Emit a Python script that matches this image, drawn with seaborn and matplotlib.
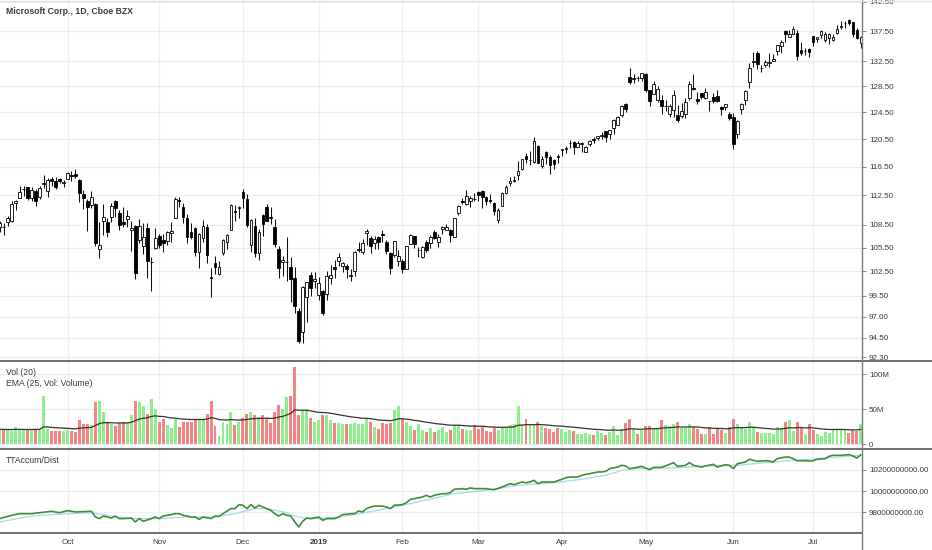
import matplotlib
matplotlib.use("Agg")
import matplotlib.pyplot as plt
from matplotlib.lines import Line2D
from matplotlib.ticker import FixedLocator, FuncFormatter, NullLocator
import numpy as np
import pandas as pd
import seaborn as sns

sns.set_theme(style="white")
plt.rcParams["font.family"] = ["Liberation Sans", "DejaVu Sans"]

TITLE = "Microsoft Corp., 1D, Cboe BZX"
FIRST_SESSION = "2018-09-06"
LAST_SESSION = "2019-07-18"
HOLIDAYS = ["2018-11-22", "2018-12-05", "2018-12-25", "2019-01-01", "2019-01-21",
            "2019-02-18", "2019-04-19", "2019-05-27", "2019-07-04"]

# daily OHLC, one line per month (Sep 2018 .. Jul 2019)
open_ = [
    108.25, 108.23, 108.84, 109.01, 111.43, 112.12, 113.36, 113.69, 112.19, 113.05, 112.28, 114.00, 113.03, 114.80, 114.47, 114.78, 114.19,
    114.75, 115.30, 115.42, 114.61, 112.63, 111.66, 111.14, 111.24, 105.35, 109.01, 108.91, 109.54, 111.68, 110.10, 108.93, 109.32, 107.77, 108.41, 106.55, 105.69, 108.11, 103.66, 105.44,
    107.05, 106.48, 106.37, 107.38, 109.44, 111.80, 110.85, 109.42, 107.55, 108.10, 104.99, 106.81, 108.27, 101.80, 103.60, 102.17, 104.79, 106.27, 107.89, 110.33, 110.70,
    113.00, 111.94, 105.82, 108.38, 104.80, 109.80, 110.89, 109.58, 108.25, 105.41, 103.75, 103.65, 103.05, 101.63, 97.68, 95.14, 99.30, 102.09, 101.29,
    99.55, 100.10, 99.72, 101.64, 103.04, 103.86, 103.22, 103.19, 101.90, 102.51, 105.26, 105.00, 107.46, 106.75, 106.12, 106.86, 107.24, 106.26, 104.88, 104.62, 103.80,
    103.78, 102.87, 106.06, 107.00, 105.19, 104.39, 106.20, 106.14, 107.50, 106.31, 107.91, 107.79, 107.86, 106.90, 110.05, 111.76, 111.26, 111.69, 112.04,
    112.89, 113.02, 112.25, 111.87, 111.40, 109.16, 110.99, 112.82, 114.13, 114.54, 115.34, 116.17, 118.09, 117.39, 117.14, 119.50, 116.56, 118.62, 117.88, 117.44, 118.07,
    118.95, 119.06, 119.86, 120.10, 119.39, 119.81, 118.63, 119.76, 120.54, 120.64, 120.94, 121.64, 121.24, 122.19, 122.62, 124.10, 125.79, 130.06, 129.70, 129.90, 129.81,
    130.53, 127.98, 127.36, 126.39, 126.46, 125.44, 124.29, 124.91, 124.11, 123.87, 124.26, 126.75, 128.31, 126.52, 127.43, 126.62, 126.20, 126.91, 126.98, 125.38, 125.26, 124.23,
    123.85, 121.28, 124.95, 126.44, 129.19, 132.40, 133.88, 131.40, 131.98, 132.26, 132.63, 134.19, 135.00, 137.45, 136.58, 137.00, 137.25, 134.35, 134.14, 134.57,
    136.63, 136.12, 136.80, 135.94, 136.40, 136.00, 137.13, 138.20, 138.85, 139.44, 138.96, 137.70, 135.55,
]
high = [
    108.99, 108.72, 109.64, 111.76, 111.85, 113.73, 113.73, 113.70, 113.70, 113.31, 113.80, 115.29, 114.90, 115.10, 115.06, 114.91, 114.57,
    115.68, 115.84, 116.18, 114.76, 113.17, 112.03, 113.08, 111.50, 108.93, 111.24, 109.48, 111.41, 111.81, 110.53, 110.86, 110.54, 108.97, 108.49, 109.27, 108.75, 108.70, 104.38, 108.14,
    107.32, 107.32, 107.74, 108.84, 112.24, 112.21, 111.45, 109.96, 108.74, 108.26, 107.43, 109.16, 108.56, 102.97, 104.43, 103.81, 106.63, 107.33, 111.33, 111.12, 110.97,
    113.42, 112.64, 109.24, 109.45, 107.98, 110.00, 111.27, 110.87, 109.26, 105.80, 104.51, 106.88, 104.31, 103.00, 97.97, 100.69, 101.19, 102.41, 102.40,
    101.75, 100.19, 102.51, 103.27, 103.97, 104.88, 103.75, 103.44, 102.87, 105.05, 106.26, 106.63, 107.90, 107.10, 107.04, 107.00, 107.88, 106.48, 104.97, 106.38, 105.22,
    104.10, 105.80, 107.27, 107.00, 105.59, 105.78, 106.58, 107.14, 107.78, 107.29, 108.30, 108.66, 107.94, 109.48, 111.20, 112.18, 113.24, 112.36, 112.88,
    113.02, 113.25, 112.39, 112.66, 111.55, 110.71, 112.95, 113.99, 115.00, 115.20, 117.25, 117.61, 118.44, 118.75, 120.82, 119.59, 118.01, 118.71, 118.21, 117.58, 118.32,
    119.11, 119.48, 120.43, 120.23, 120.23, 120.02, 119.54, 120.35, 120.85, 120.98, 121.58, 121.65, 121.85, 123.52, 124.00, 125.58, 125.85, 131.37, 130.52, 130.18, 130.70,
    130.65, 128.00, 129.43, 128.56, 127.18, 126.37, 125.80, 127.93, 125.55, 125.88, 126.71, 129.38, 130.46, 127.59, 127.53, 128.24, 126.29, 127.42, 128.00, 125.39, 125.76, 124.62,
    124.37, 123.28, 125.87, 127.97, 132.25, 134.08, 134.24, 131.97, 132.67, 133.79, 133.73, 135.24, 135.93, 137.66, 137.73, 138.40, 137.59, 135.74, 134.71, 134.60,
    136.70, 136.58, 137.74, 137.33, 137.10, 136.97, 138.58, 139.22, 139.13, 139.54, 139.05, 137.93, 136.62,
]
low = [
    107.51, 107.23, 108.36, 108.85, 110.51, 112.12, 112.44, 111.86, 111.72, 111.04, 111.93, 113.51, 112.21, 113.75, 113.35, 114.20, 113.68,
    114.73, 114.44, 114.93, 111.63, 110.64, 107.74, 110.80, 105.79, 104.20, 107.12, 106.95, 108.95, 109.55, 107.83, 108.21, 108.24, 105.11, 101.59, 106.15, 104.76, 101.63, 100.11, 105.39,
    105.53, 104.98, 105.90, 106.28, 109.40, 110.91, 108.76, 106.10, 106.64, 104.47, 102.90, 106.21, 103.55, 99.35, 102.24, 102.00, 104.58, 105.36, 107.86, 109.03, 109.36,
    110.73, 108.21, 105.00, 104.30, 103.89, 107.02, 109.04, 108.63, 105.58, 101.71, 101.93, 101.35, 98.78, 97.46, 93.98, 93.96, 96.40, 99.52, 100.44,
    98.94, 97.20, 98.93, 100.98, 101.71, 103.24, 102.38, 101.64, 101.26, 101.88, 104.96, 104.76, 105.91, 104.86, 105.34, 105.34, 106.20, 104.66, 102.17, 104.33, 103.18,
    102.35, 102.77, 105.96, 105.53, 104.29, 104.26, 104.97, 105.48, 106.71, 105.66, 107.36, 107.78, 106.29, 106.87, 109.82, 111.26, 111.17, 110.88, 111.73,
    111.67, 110.80, 111.23, 111.43, 109.87, 108.80, 110.98, 112.65, 113.78, 114.33, 114.59, 116.05, 116.99, 116.71, 117.09, 117.04, 116.32, 116.85, 115.52, 116.13, 116.96,
    118.10, 118.52, 119.15, 118.38, 119.37, 118.64, 118.58, 119.54, 119.92, 120.37, 120.57, 120.10, 120.54, 121.30, 122.57, 123.83, 124.52, 128.83, 129.02, 129.35, 129.39,
    127.70, 125.52, 127.25, 126.11, 124.22, 124.75, 123.80, 123.82, 123.04, 123.70, 123.70, 126.46, 127.92, 125.76, 126.58, 126.52, 124.74, 125.97, 126.05, 124.04, 124.78, 123.32,
    119.01, 120.65, 124.21, 125.60, 128.26, 131.62, 131.28, 130.71, 131.56, 131.64, 132.53, 133.57, 133.81, 135.72, 136.46, 137.00, 132.73, 133.60, 133.51, 133.16,
    134.97, 135.72, 136.30, 135.72, 135.37, 135.80, 137.02, 137.87, 138.01, 138.46, 136.52, 136.22, 134.67,
]
close = [
    108.74, 108.21, 109.38, 111.24, 111.71, 112.91, 113.37, 112.14, 113.21, 111.70, 113.57, 114.26, 114.67, 114.45, 113.68, 114.41, 114.37,
    115.61, 115.15, 115.17, 112.79, 112.13, 110.85, 112.26, 106.16, 105.91, 109.57, 107.60, 111.00, 110.71, 108.50, 108.66, 109.63, 108.10, 102.32, 108.30, 106.96, 103.85, 103.73, 106.81,
    105.92, 106.16, 107.51, 107.72, 111.96, 111.75, 109.57, 106.87, 106.94, 104.97, 107.28, 108.29, 104.62, 101.71, 103.11, 103.07, 106.47, 107.14, 111.12, 110.19, 110.89,
    112.09, 108.52, 109.19, 104.82, 107.59, 108.59, 109.08, 109.45, 106.03, 102.89, 103.97, 103.69, 101.51, 98.23, 94.13, 100.56, 101.18, 100.39, 101.57,
    101.12, 97.40, 101.93, 102.06, 102.80, 104.27, 103.60, 102.80, 102.05, 105.01, 105.38, 106.12, 107.71, 105.68, 106.71, 106.20, 107.17, 105.08, 102.94, 106.38, 104.43,
    102.78, 105.74, 107.22, 106.03, 105.27, 105.67, 105.25, 106.89, 106.81, 106.90, 108.22, 108.17, 107.15, 109.41, 110.97, 111.59, 112.36, 112.17, 112.03,
    112.53, 112.26, 111.70, 111.75, 110.39, 110.51, 112.83, 113.62, 114.50, 114.59, 115.91, 117.57, 117.65, 117.52, 120.22, 117.05, 117.66, 117.91, 116.77, 116.93, 117.94,
    119.02, 119.19, 119.97, 119.36, 119.89, 119.93, 119.28, 120.19, 120.33, 120.95, 121.05, 120.77, 121.77, 123.37, 123.76, 125.44, 125.01, 129.15, 129.89, 129.77, 130.60,
    127.88, 126.21, 128.90, 128.15, 125.52, 125.51, 125.50, 127.13, 123.35, 124.73, 126.02, 128.93, 128.07, 126.22, 126.90, 127.67, 126.18, 126.24, 126.16, 124.94, 125.73, 123.68,
    119.84, 123.16, 125.83, 127.82, 131.40, 132.60, 132.10, 131.49, 132.32, 132.45, 132.85, 135.16, 135.69, 136.95, 136.97, 137.78, 133.43, 133.93, 134.15, 133.96,
    135.68, 136.58, 137.46, 137.06, 136.96, 136.46, 137.85, 138.40, 138.90, 138.90, 137.08, 136.27, 136.42,
]
# daily volume, millions of shares
volume_m = [
    21, 20, 20, 19, 24, 20, 20, 20, 22, 21, 22, 68, 21, 18, 18, 19, 18,
    20, 18, 17, 34, 28, 28, 27, 60, 62, 46, 31, 29, 26, 30, 31, 30, 42, 62, 60, 54, 43, 64, 50,
    31, 36, 27, 23, 36, 24, 31, 31, 32, 35, 36, 34, 43, 62, 26, 12, 31, 29, 46, 27, 32,
    37, 43, 46, 42, 39, 41, 37, 30, 46, 56, 50, 67, 69, 110, 42, 48, 48, 37, 32,
    34, 41, 42, 35, 30, 30, 28, 28, 28, 30, 29, 28, 36, 31, 24, 22, 30, 29, 30, 48, 55,
    36, 31, 26, 20, 28, 20, 17, 23, 17, 20, 24, 17, 20, 27, 27, 22, 20, 20, 27,
    22, 26, 19, 17, 23, 20, 24, 25, 27, 28, 54, 29, 36, 27, 27, 31, 26, 23, 21, 17, 23,
    22, 17, 20, 19, 15, 15, 16, 15, 13, 19, 16, 13, 17, 26, 13, 22, 30, 36, 22, 15, 20,
    26, 26, 22, 22, 34, 27, 26, 29, 32, 23, 23, 29, 24, 22, 15, 15, 24, 15, 22, 20, 16, 25,
    36, 28, 24, 22, 32, 24, 17, 16, 16, 16, 14, 24, 23, 31, 35, 19, 31, 24, 15, 28,
    20, 14, 12, 17, 16, 20, 22, 20, 20, 16, 20, 18, 29,
]

# TTAccum/Dist (billions)
acc_dates = [
    "2018-09-06", "2018-09-11", "2018-09-13", "2018-09-18", "2018-09-20", "2018-09-25", "2018-09-27",
    "2018-10-01", "2018-10-03", "2018-10-09", "2018-10-10", "2018-10-11", "2018-10-12", "2018-10-16", "2018-10-17",
    "2018-10-18", "2018-10-19", "2018-10-23", "2018-10-24", "2018-10-25", "2018-10-26", "2018-10-30", "2018-10-31",
    "2018-11-01", "2018-11-02", "2018-11-06", "2018-11-07", "2018-11-08", "2018-11-09", "2018-11-13", "2018-11-14",
    "2018-11-15", "2018-11-16", "2018-11-20", "2018-11-21", "2018-11-23", "2018-11-26", "2018-11-28", "2018-11-29", "2018-11-30",
    "2018-12-03", "2018-12-04", "2018-12-06", "2018-12-07", "2018-12-10", "2018-12-11", "2018-12-13", "2018-12-14",
    "2018-12-17", "2018-12-18", "2018-12-19", "2018-12-20", "2018-12-21", "2018-12-24", "2018-12-26", "2018-12-27", "2018-12-28",
    "2019-01-02", "2019-01-03", "2019-01-04", "2019-01-08", "2019-01-09", "2019-01-10", "2019-01-14", "2019-01-15",
    "2019-01-16", "2019-01-17", "2019-01-18", "2019-01-22", "2019-01-23", "2019-01-25", "2019-01-28", "2019-01-29", "2019-01-30",
    "2019-02-01", "2019-02-04", "2019-02-05", "2019-02-06", "2019-02-08", "2019-02-11", "2019-02-12", "2019-02-13",
    "2019-02-15", "2019-02-19", "2019-02-20", "2019-02-21", "2019-02-25", "2019-02-26", "2019-02-27", "2019-02-28",
    "2019-03-04", "2019-03-05", "2019-03-06", "2019-03-07", "2019-03-11", "2019-03-12", "2019-03-13", "2019-03-14",
    "2019-03-18", "2019-03-19", "2019-03-20", "2019-03-21", "2019-03-22", "2019-03-25", "2019-03-27", "2019-03-28",
    "2019-04-01", "2019-04-02", "2019-04-03", "2019-04-04", "2019-04-05", "2019-04-08", "2019-04-09", "2019-04-10",
    "2019-04-12", "2019-04-15", "2019-04-16", "2019-04-17", "2019-04-22", "2019-04-23", "2019-04-24", "2019-04-25",
    "2019-04-26", "2019-04-30",
    "2019-05-02", "2019-05-03", "2019-05-07", "2019-05-08", "2019-05-10", "2019-05-13", "2019-05-15", "2019-05-16",
    "2019-05-17", "2019-05-21", "2019-05-22", "2019-05-24", "2019-05-28", "2019-05-30", "2019-05-31",
    "2019-06-03", "2019-06-04", "2019-06-06", "2019-06-07", "2019-06-10", "2019-06-11", "2019-06-13", "2019-06-14",
    "2019-06-17", "2019-06-18", "2019-06-20", "2019-06-21", "2019-06-24", "2019-06-25", "2019-06-27", "2019-06-28",
    "2019-07-01", "2019-07-02", "2019-07-05", "2019-07-08", "2019-07-09", "2019-07-11", "2019-07-15", "2019-07-16",
    "2019-07-17", "2019-07-18",
]
acc_bn = [
    9.743, 9.774, 9.789, 9.789, 9.798, 9.811, 9.798,
    9.817, 9.805, 9.811, 9.758, 9.743, 9.767, 9.749, 9.767,
    9.743, 9.743, 9.749, 9.712, 9.743, 9.718, 9.743, 9.758,
    9.743, 9.767, 9.780, 9.789, 9.789, 9.774, 9.758, 9.758,
    9.736, 9.758, 9.743, 9.767, 9.764, 9.789, 9.836, 9.836, 9.873,
    9.867, 9.836, 9.873, 9.842, 9.867, 9.851, 9.820, 9.789,
    9.767, 9.789, 9.774, 9.767, 9.712, 9.665, 9.718, 9.749, 9.743,
    9.758, 9.727, 9.743, 9.743, 9.758, 9.780, 9.789, 9.789,
    9.814, 9.805, 9.836, 9.851, 9.860, 9.860, 9.851, 9.836, 9.867,
    9.873, 9.891, 9.923, 9.929, 9.944, 9.960, 9.944, 9.960,
    9.975, 9.975, 9.984, 10.016, 10.022, 10.016, 10.028, 10.022,
    10.022, 10.022, 10.016, 10.012, 10.037, 10.053, 10.068, 10.059,
    10.084, 10.077, 10.084, 10.099, 10.068, 10.084, 10.084, 10.084,
    10.109, 10.124, 10.130, 10.130, 10.130, 10.146, 10.155, 10.161,
    10.177, 10.177, 10.183, 10.208, 10.223, 10.239, 10.233, 10.208,
    10.214, 10.229,
    10.198, 10.220, 10.220, 10.233, 10.264, 10.229, 10.239, 10.264,
    10.239, 10.223, 10.233, 10.248, 10.223, 10.245, 10.239,
    10.208, 10.254, 10.270, 10.295, 10.285, 10.276, 10.282, 10.279,
    10.270, 10.301, 10.316, 10.316, 10.301, 10.282, 10.282, 10.279,
    10.282, 10.295, 10.301, 10.323, 10.332, 10.332, 10.338, 10.326,
    10.307, 10.338,
]
# its moving average (light blue)
acc_ma_dates = [
    "2018-09-06", "2018-09-18", "2018-10-01", "2018-10-09", "2018-10-16", "2018-10-23", "2018-11-01",
    "2018-11-12", "2018-11-21", "2018-11-29", "2018-12-07", "2018-12-12", "2018-12-19", "2018-12-21",
    "2018-12-27", "2019-01-02", "2019-01-08", "2019-01-15", "2019-01-28", "2019-02-07", "2019-02-21",
    "2019-03-05", "2019-03-15", "2019-03-28", "2019-04-04", "2019-04-16", "2019-04-23", "2019-04-29",
    "2019-05-10", "2019-05-22", "2019-06-04", "2019-06-17", "2019-06-27", "2019-07-10", "2019-07-18",
]
acc_ma_bn = [
    9.712, 9.767, 9.789, 9.798, 9.767, 9.743, 9.743,
    9.758, 9.758, 9.789, 9.836, 9.836, 9.798, 9.767,
    9.743, 9.743, 9.755, 9.780, 9.836, 9.898, 9.975,
    10.006, 10.053, 10.077, 10.099, 10.146, 10.192, 10.208,
    10.214, 10.233, 10.239, 10.270, 10.292, 10.316, 10.332,
]

PRICE_TICKS = [92.30, 94.50, 97.00, 99.50, 102.50, 105.50, 108.50, 112.50,
               116.50, 120.50, 124.50, 128.50, 132.50, 137.50, 142.50]
VOLUME_TICKS = [0, 50e6, 100e6]
VOLUME_LABELS = ["0", "50M", "100M"]
ACC_TICKS = [9.8e9, 10.0e9, 10.2e9]
MONTH_LABELS = ["Oct", "Nov", "Dec", "2019", "Feb", "Mar", "Apr", "May", "Jun", "Jul"]

W, H = 932, 550
PLOT_RIGHT = 862
UP_VOL, DOWN_VOL = "#8eee8e", "#f28585"
TEXT = "#3a3a3a"
GRID = "#eeeeee"

sessions = pd.bdate_range(FIRST_SESSION, LAST_SESSION)
sessions = sessions[~sessions.isin(pd.to_datetime(HOLIDAYS))]
df = pd.DataFrame({"open": open_, "high": high, "low": low, "close": close,
                   "volume": np.array(volume_m) * 1e6}, index=sessions)
df["bar"] = np.arange(len(df))
df["dir"] = np.where(df["close"] >= df["open"], "up", "down")
df["vol_ema"] = df["volume"].ewm(span=25, adjust=False).mean()

acc = pd.DataFrame({"bar": sessions.get_indexer(pd.to_datetime(acc_dates)),
                    "value": np.array(acc_bn) * 1e9})
acc_ma = pd.DataFrame({"bar": sessions.get_indexer(pd.to_datetime(acc_ma_dates)),
                       "value": np.array(acc_ma_bn) * 1e9})

month_start = df.groupby(df.index.to_period("M"))["bar"].min().iloc[1:]


def px_axes(fig, top, bottom):
    return fig.add_axes([0, 1 - bottom / H, PLOT_RIGHT / W, (bottom - top) / H])


fig = plt.figure(figsize=(W / 100, H / 100), dpi=100)
fig.patch.set_facecolor("white")
ax_p = px_axes(fig, 0, 361)
ax_v = px_axes(fig, 361, 449)
ax_a = px_axes(fig, 449, 533)

# candles
ax_p.vlines(df["bar"], df["low"], df["high"], color="#111111", lw=0.75, zorder=2)
body_lo = np.minimum(df["open"], df["close"])
body_h = (df["close"] - df["open"]).abs()
ax_p.bar(df["bar"], body_h, bottom=body_lo, width=0.68,
         color=np.where(df["dir"] == "up", "white", "black"),
         edgecolor="black", linewidth=0.6, zorder=3)
ax_p.set_yscale("log")
ax_p.set_ylim(91.88, 142.81)
ax_p.yaxis.set_major_locator(FixedLocator(PRICE_TICKS))
ax_p.yaxis.set_minor_locator(NullLocator())
ax_p.yaxis.set_major_formatter(FuncFormatter(lambda v, _: f"{v:.2f}"))

# volume
sns.barplot(data=df, x="bar", y="volume", hue="dir", palette={"up": UP_VOL, "down": DOWN_VOL},
            native_scale=True, dodge=False, width=0.74, saturation=1, errorbar=None,
            legend=False, linewidth=0, ax=ax_v)
sns.lineplot(data=df, x="bar", y="vol_ema", color="#333333", lw=0.9, ax=ax_v)
ax_v.set_ylim(-7.1e6, 118.6e6)
ax_v.yaxis.set_major_locator(FixedLocator(VOLUME_TICKS))
ax_v.set_yticklabels(VOLUME_LABELS)

# accumulation / distribution
sns.lineplot(data=acc_ma, x="bar", y="value", color="#a9d8ec", lw=0.9, ax=ax_a)
sns.lineplot(data=acc, x="bar", y="value", color="#3c8f3c", lw=1.2, ax=ax_a)
ax_a.set_ylim(9.609e9, 10.391e9)
ax_a.yaxis.set_major_locator(FixedLocator(ACC_TICKS))
ax_a.yaxis.set_major_formatter(FuncFormatter(lambda v, _: f"{v:.2f}"))

for ax in (ax_p, ax_v, ax_a):
    ax.set_xlim(0.07, 216.27)
    ax.set_facecolor("white")
    for s in ax.spines.values():
        s.set_visible(False)
    ax.set_xlabel("")
    ax.set_ylabel("")
    ax.yaxis.tick_right()
    ax.tick_params(axis="y", length=3, width=0.6, color="#777777", pad=2,
                   labelsize=5.8, labelcolor=TEXT)
    ax.set_xticks(month_start.values)
    ax.grid(True, color=GRID, lw=0.9)
    ax.set_axisbelow(True)
    ax.tick_params(axis="x", length=0, labelbottom=False)

ax_a.set_xticklabels(MONTH_LABELS)
ax_a.tick_params(axis="x", labelbottom=True, pad=4.5, labelsize=5.8, labelcolor=TEXT)
for lbl in ax_a.get_xticklabels():
    if lbl.get_text() == "2019":
        lbl.set_fontweight("bold")

# pane separators and price scale border
for y in (361, 449):
    fig.add_artist(Line2D([0, 1], [1 - y / H] * 2, transform=fig.transFigure, color="#555555", lw=1.2))
fig.add_artist(Line2D([0, PLOT_RIGHT / W], [1 - 533 / H] * 2, transform=fig.transFigure, color="#555555", lw=1.2))
fig.add_artist(Line2D([PLOT_RIGHT / W] * 2, [0, 1], transform=fig.transFigure, color="#7a7a7a", lw=1.0))
fig.add_artist(Line2D([0, 1], [1 - 0.5 / H] * 2, transform=fig.transFigure, color="#e2e2e2", lw=1.0))

fig.text(6 / W, 1 - 12 / H, TITLE, fontsize=6.2, fontweight="bold", color=TEXT, va="center")
fig.text(6 / W, 1 - 372.5 / H, "Vol (20)", fontsize=6.2, color=TEXT, va="center")
fig.text(6 / W, 1 - 383.5 / H, "EMA (25, Vol: Volume)", fontsize=6.2, color=TEXT, va="center")
fig.text(6 / W, 1 - 460.5 / H, "TTAccum/Dist", fontsize=6.2, color=TEXT, va="center")

fig.savefig("out.png", dpi=100)
